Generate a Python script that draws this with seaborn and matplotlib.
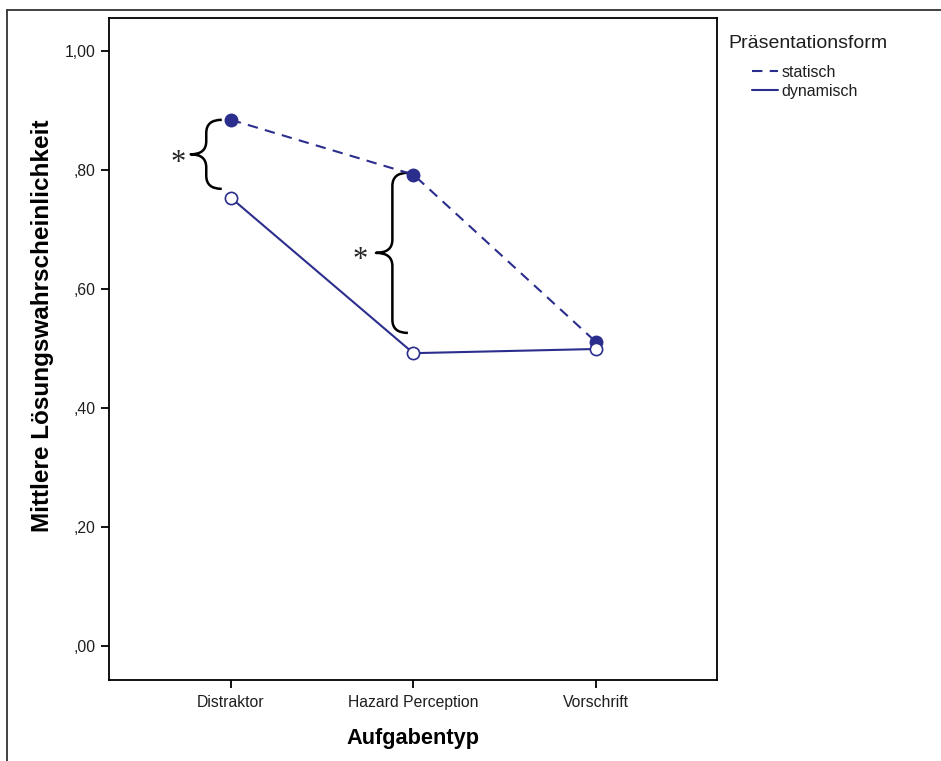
import numpy as np
import pandas as pd
import matplotlib
matplotlib.use("Agg")
import matplotlib.pyplot as plt
from matplotlib.lines import Line2D
from matplotlib.path import Path
from matplotlib.patches import PathPatch
import seaborn as sns

# Mean solution probability per task type and presentation form
aufgaben = ["Distraktor", "Hazard Perception", "Vorschrift"]
statisch = [0.884, 0.792, 0.511]
dynamisch = [0.753, 0.492, 0.499]
y_ticks = [0.0, 0.2, 0.4, 0.6, 0.8, 1.0]
y_tick_labels = [",00", ",20", ",40", ",60", ",80", "1,00"]

df = pd.DataFrame({
    "Aufgabentyp": aufgaben * 2,
    "Wert": statisch + dynamisch,
    "Form": ["statisch"] * 3 + ["dynamisch"] * 3,
})

sns.set_theme(style="white")
plt.rcParams["font.family"] = ["Liberation Sans", "DejaVu Sans"]

navy = "#2b2e8c"
text_col = "#1e1e1e"
dash = (0, (5, 3.5))

fig = plt.figure(figsize=(9.41, 7.61), dpi=100)
ax = fig.add_axes([109 / 941, 1 - 680 / 761, (717 - 109) / 941, (680 - 18) / 761])

sns.lineplot(data=df[df.Form == "statisch"], x="Aufgabentyp", y="Wert", ax=ax,
             color=navy, linewidth=1.5, linestyle=dash, marker="o",
             markersize=8.8, markerfacecolor=navy, markeredgecolor=navy,
             markeredgewidth=1.2, legend=False)
sns.lineplot(data=df[df.Form == "dynamisch"], x="Aufgabentyp", y="Wert", ax=ax,
             color=navy, linewidth=1.5, marker="o", markersize=8.8,
             markerfacecolor="white", markeredgecolor=navy,
             markeredgewidth=1.2, legend=False)

ax.set_xlim(-0.668, 2.664)
ax.set_ylim(-0.057, 1.055)
ax.set_yticks(y_ticks)
ax.set_yticklabels(y_tick_labels)
ax.set_xticks(range(len(aufgaben)))
ax.set_xticklabels(aufgaben)
ax.tick_params(axis="both", which="major", direction="out", length=6, width=1.3,
               color="black", labelsize=11.3, labelcolor=text_col, bottom=True, left=True)
ax.tick_params(axis="x", pad=5)
for s in ax.spines.values():
    s.set_color("black")
    s.set_linewidth(1.3)

ax.set_xlabel("Aufgabentyp", fontsize=15.7, fontweight="bold", labelpad=13, color="black")
ax.set_ylabel("Mittlere Lösungswahrscheinlichkeit", fontsize=17.5, fontweight="bold",
              color="black", va="center")
ax.yaxis.set_label_coords(-0.110, 0.535)


def brace(ax, x_hook, x_mid, x_tip, y_top, y_bot):
    """Curly brace opening to the right, tip pointing left."""
    y_mid = (y_top + y_bot) / 2
    ry = 0.022
    verts = [
        (x_hook, y_top),
        (x_mid, y_top), (x_mid, y_top - ry),
        (x_mid, y_mid + ry),
        (x_mid, y_mid), (x_tip, y_mid),
        (x_mid, y_mid), (x_mid, y_mid - ry),
        (x_mid, y_bot + ry),
        (x_mid, y_bot), (x_hook, y_bot),
    ]
    codes = [Path.MOVETO,
             Path.CURVE3, Path.CURVE3,
             Path.LINETO,
             Path.CURVE3, Path.CURVE3,
             Path.CURVE3, Path.CURVE3,
             Path.LINETO,
             Path.CURVE3, Path.CURVE3]
    ax.add_patch(PathPatch(Path(verts, codes), fill=False, lw=1.8, color="black",
                           capstyle="butt", joinstyle="round"))


# significance brackets between the two presentation forms
brace(ax, -0.05, -0.135, -0.22, 0.884, 0.768)
ax.text(-0.29, 0.81, "*", fontsize=22, family="Liberation Serif", ha="center", va="center")
brace(ax, 1 - 0.03, 1 - 0.115, 1 - 0.205, 0.795, 0.526)
ax.text(1 - 0.29, 0.647, "*", fontsize=22, family="Liberation Serif", ha="center", va="center")

# legend: title on its own, entries indented beneath it
fig.text(728 / 941, 1 - 43 / 761, "Präsentationsform", fontsize=14, color=text_col,
         ha="left", va="center")
handles = [
    Line2D([], [], color=navy, lw=1.5, linestyle=dash),
    Line2D([], [], color=navy, lw=1.5),
]
leg = fig.legend(handles, ["statisch", "dynamisch"],
                 loc="upper left", bbox_to_anchor=(752 / 941, 1 - 65 / 761),
                 frameon=False, fontsize=11.5, borderpad=0,
                 handlelength=1.65, handletextpad=0.2, labelspacing=0.22,
                 borderaxespad=0)
for t in leg.get_texts():
    t.set_color(text_col)

# outer frame lines along the top and left edge
fig.add_artist(Line2D([7 / 941, 1.0], [1 - 10 / 761, 1 - 10 / 761],
                      transform=fig.transFigure, color="#333333", lw=1.3))
fig.add_artist(Line2D([7 / 941, 7 / 941], [0, 1 - 10 / 761],
                      transform=fig.transFigure, color="#333333", lw=1.3))

fig.savefig("out.png", dpi=100, facecolor="white")
